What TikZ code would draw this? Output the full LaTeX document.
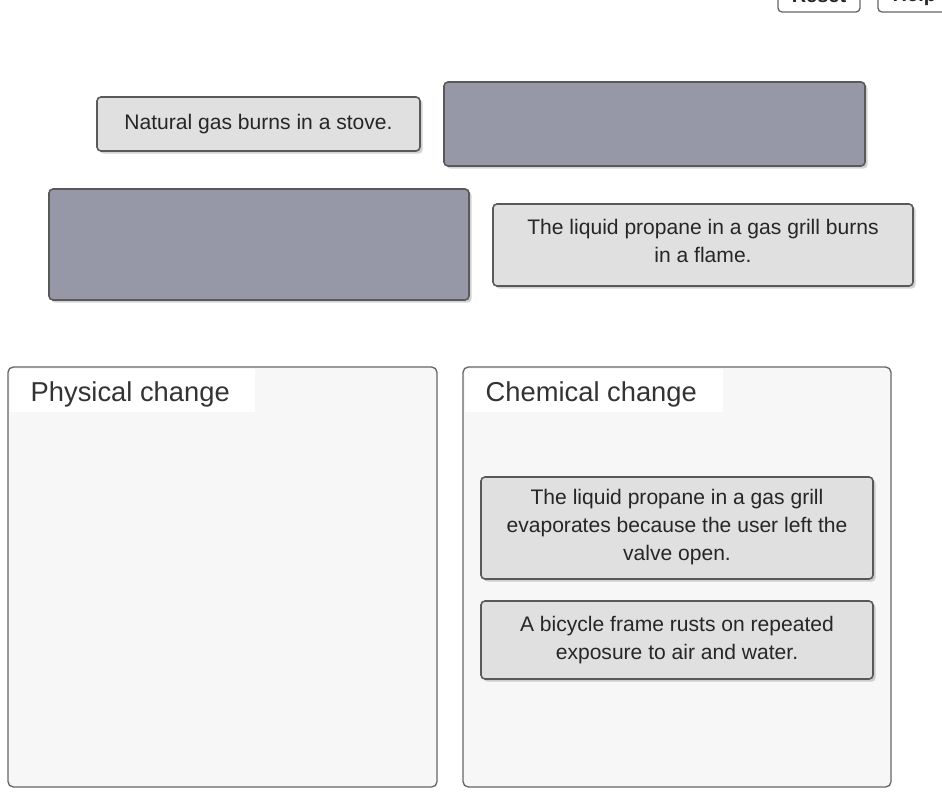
\documentclass[tikz,border=0pt]{standalone}
\usepackage{fontspec}
\setmainfont{Liberation Sans}
\usetikzlibrary{shadows}
\definecolor{slotgray}{RGB}{150,152,168}
\tikzset{
  tile/.style={draw=black!65, line width=1.2pt, rounded corners=3pt, fill=black!12,
    drop shadow={shadow xshift=2pt, shadow yshift=-2pt, opacity=0.35}},
  slot/.style={tile, fill=slotgray},
  panel/.style={draw=black!60, line width=1pt, rounded corners=4pt, fill=black!3},
  btn/.style={draw=black!60, line width=1pt, rounded corners=3pt, fill=white},
  label/.style={font=\fontsize{15.8}{21}\selectfont, text=black!85, align=center}
}
\begin{document}
\begin{tikzpicture}[x=0.75pt, y=-0.75pt]
\useasboundingbox (0,0) rectangle (942,798);
\clip (0,0) rectangle (942,798);
% buttons
\draw[btn] (778,-12) rectangle (860,12);
\node[label, font=\bfseries\fontsize{15}{18}\selectfont] (reset) at (819,-4) {Reset};
\draw[btn] (878,-12) rectangle (950,12);
\node[label, font=\bfseries\fontsize{15}{18}\selectfont, anchor=west] (help) at (888,-4) {Help};
% tiles above
\draw[tile] (97,97) rectangle (420,151);
\node[label] (gas) at (258.5,124) {Natural gas burns in a stove.};
\draw[slot] (444,82) rectangle (865,166);
\draw[slot] (49,189) rectangle (469,300);
\draw[tile] (493,204) rectangle (913,286);
\node[label] (burns) at (703,241) {The liquid propane in a gas grill burns\\in a flame.};
% panels
\draw[panel] (8,367) rectangle (437,787);
\fill[white] (10,369) rectangle (255,412);
\node[anchor=west, font=\fontsize{20.5}{24}\selectfont, text=black!80] (phys) at (26,394) {Physical change};
\draw[panel] (463,367) rectangle (891,787);
\fill[white] (465,369) rectangle (723,412);
\node[anchor=west, font=\fontsize{20.5}{24}\selectfont, text=black!80] (chem) at (481,394) {Chemical change};
% tiles in panel
\draw[tile] (481,477) rectangle (873,579);
\node[label] (evap) at (677,527) {The liquid propane in a gas grill\\evaporates because the user left the\\valve open.};
\draw[tile] (481,601) rectangle (873,679);
\node[label] (rust) at (677,640) {A bicycle frame rusts on repeated\\exposure to air and water.};
\end{tikzpicture}
\end{document}
